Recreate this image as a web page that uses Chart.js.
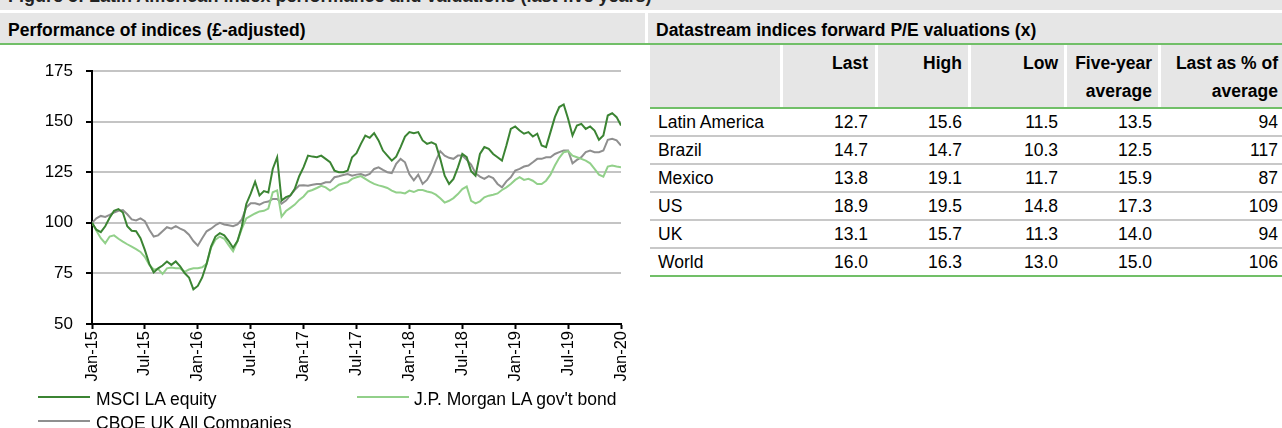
<!DOCTYPE html>
<html>
<head>
<meta charset="utf-8">
<script src="https://cdn.jsdelivr.net/npm/chart.js@4.4.1/dist/chart.umd.min.js"></script>
<style>
    body {
        margin: 0;
        width: 1282px;
        height: 428px;
        overflow: hidden;
        background: #fff;
        position: relative;
        font-family: 'Liberation Sans', Arial, sans-serif;
        color: #000;
    }
    .abs { position: absolute; }
    .band { position: absolute; background: #e6e6e6; }
    #topBand { left: 0; top: 0; width: 1282px; height: 10px; overflow: hidden; }
    #topBand span { position: absolute; left: 8px; top: -16px; font-weight: bold; font-size: 18px; line-height: 24px; white-space: nowrap; color: #222; }
    .head { font-weight: bold; font-size: 17.5px; line-height: 34px; height: 30px; white-space: nowrap; overflow: visible; }
    #greenTop { left: 0; top: 43px; width: 1282px; height: 2px; background: #71bf68; }
    #chartBox { left: 0; top: 45px; width: 645px; height: 345px; }
    .th { position: absolute; top: 45px; height: 58px; padding-top: 4px; background: #e6e6e6; font-weight: bold; font-size: 17.5px; line-height: 28px; text-align: right; white-space: nowrap; }
    .td { position: absolute; height: 26px; font-size: 17.5px; line-height: 24px; white-space: nowrap; }
    .rowLine { position: absolute; left: 650px; width: 632px; height: 2px; background: #c8c8c8; }
    .legLine { position: absolute; width: 52px; height: 0; border-top: 2px solid; }
    .legText { position: absolute; font-size: 17.5px; line-height: 24px; white-space: nowrap; }
</style>
</head>
<body>

<div id="topBand" class="band"><span>Figure 5: Latin American index performance and valuations (last five years)</span></div>

<div class="band head" style="left:0; top:13px; width:645px; padding-left:8px; box-sizing:border-box;">Performance of indices (£-adjusted)</div>
<div class="band head" style="left:648px; top:13px; width:634px; padding-left:8px; box-sizing:border-box;">Datastream indices forward P/E valuations (x)</div>
<div id="greenTop" class="abs"></div>

<div id="chartBox" class="abs"><canvas id="perfChart" width="645" height="345" style="width:645px;height:345px;"></canvas></div>

<div id="legend"></div>
<div id="table"></div>

<script>
// ========================================
// CHART DATA (half-month steps, Jan-15 .. Jan-20)
// ========================================

const tickMonths = [0, 6, 12, 18, 24, 30, 36, 42, 48, 54, 60];
const tickLabels = ['Jan-15', 'Jul-15', 'Jan-16', 'Jul-16', 'Jan-17', 'Jul-17', 'Jan-18', 'Jul-18', 'Jan-19', 'Jul-19', 'Jan-20'];

const msciEquity = [
    100, 96.6, 95.4, 98.3, 102.5, 105.9, 106.8, 105.1, 98.3, 96.1, 95.8, 92.4, 86.5, 79.7, 75.5, 77.5, 78.9, 80.9, 79.2, 80.9,
    78.5, 75.2, 73.0, 67.1, 68.8, 73.0, 79.7, 88.2, 93.2, 94.9, 93.8, 91.0, 87.7, 91.0, 98.3, 109.3, 114.4, 120.3, 113.5, 115.7,
    115.0, 126.6, 132.4, 111.0, 112.7, 113.5, 116.8, 123.0, 127.5,
    133.2, 132.7, 132.4, 133.2, 131.6, 130.0, 125.8, 125.0, 125.0, 125.8, 132.4, 134.4, 139.0, 143.1, 142.0, 144.3, 140.7, 135.7,
    133.2, 130.7, 132.7, 137.4, 142.6, 144.8, 144.3, 144.8, 140.7, 139.0, 139.8, 138.7, 131.6, 123.3, 119.2, 121.7, 127.4, 134.0,
    132.4, 125.5, 123.3, 134.0, 137.4, 136.5, 134.0, 132.4, 130.7, 138.2, 146.4, 147.6, 145.6, 144.0, 144.8, 142.6, 144.0, 138.2,
    137.4, 144.8, 152.2, 157.2, 158.5, 151.4, 143.1, 148.1, 148.9, 146.4, 147.6, 145.6, 141.0, 143.1, 153.0, 154.2, 152.2, 148.1
];

const jpmGovBond = [
    100, 96.1, 92.4, 89.9, 93.2, 93.8, 92.1, 90.7, 89.4, 88.2, 87.0, 85.6, 83.1, 79.2, 76.9, 77.2, 74.7, 77.5, 77.9, 77.5,
    77.5, 75.8, 76.9, 77.5, 77.5, 78.0, 79.7, 87.7, 91.6, 93.2, 92.1, 89.0, 86.0, 91.0, 97.1, 102.2, 103.4, 104.6, 105.6, 105.9,
    107.0, 115.1, 116.0, 103.1, 105.8, 107.4, 109.0, 111.3, 113.0,
    115.5, 116.2, 117.2, 118.3, 117.5, 115.9, 117.2, 118.8, 119.5, 120.0, 121.7, 122.5, 123.1, 121.7, 120.3, 119.2, 118.5, 117.9,
    117.2, 115.9, 115.0, 115.0, 114.5, 115.9, 115.2, 116.2, 116.2, 115.5, 115.0, 113.9, 112.1, 110.0, 110.9, 112.2, 114.2, 116.7,
    117.9, 110.9, 109.6, 110.6, 112.6, 113.4, 113.9, 114.5, 116.2, 117.5, 119.2, 121.2, 122.5, 121.2, 121.7, 120.8, 119.2, 119.2,
    120.8, 123.8, 128.3, 132.1, 134.9, 135.4, 133.2, 132.4, 131.6, 130.7, 129.4, 126.6, 123.8, 122.8, 127.8, 128.3, 127.8, 127.4
];

const cboeUk = [
    100, 102.2, 103.4, 102.9, 103.9, 105.1, 105.9, 106.3, 104.2, 101.7, 101.2, 102.2, 100.8, 96.6, 93.2, 93.8, 95.8, 97.8, 97.1, 98.3,
    97.1, 96.1, 94.1, 91.0, 88.7, 92.4, 95.8, 97.1, 98.8, 100.0, 99.2, 98.8, 98.3, 99.2, 101.7, 107.6, 109.6, 109.6, 109.0, 110.1,
    110.5, 111.8, 111.8, 109.4, 111.0, 113.5, 116.3, 118.4, 118.5,
    118.3, 118.8, 119.2, 119.2, 120.0, 120.0, 122.5, 123.0, 123.6, 124.1, 123.3, 123.8, 124.1, 123.3, 124.1, 126.6, 127.4, 126.1,
    125.0, 124.5, 129.1, 131.6, 129.9, 124.0, 121.0, 123.8, 119.2, 121.2, 125.0, 130.7, 135.4, 133.2, 132.1, 131.6, 133.2, 133.2,
    131.1, 128.8, 124.5, 122.8, 121.7, 123.1, 122.1, 119.2, 117.5, 120.5, 122.5, 125.8, 126.6, 127.8, 128.3, 129.9, 131.6, 131.6,
    132.4, 132.4, 134.0, 134.9, 135.7, 135.7, 129.4, 131.1, 132.4, 134.9, 135.7, 134.9, 134.9, 135.7, 141.0, 141.5, 140.7, 138.2
];

const seriesNames = ['MSCI LA equity', "J.P. Morgan LA gov't bond", 'CBOE UK All Companies'];
const seriesColors = ['#3b8433', '#92d08a', '#8f8f8f'];

// ========================================
// TABLE DATA
// ========================================

const peRegions = ['Latin America', 'Brazil', 'Mexico', 'US', 'UK', 'World'];
const peLast = ['12.7', '14.7', '13.8', '18.9', '13.1', '16.0'];
const peHigh = ['15.6', '14.7', '19.1', '19.5', '15.7', '16.3'];
const peLow = ['11.5', '10.3', '11.7', '14.8', '11.3', '13.0'];
const peAvg = ['13.5', '12.5', '15.9', '17.3', '14.0', '15.0'];
const pePct = ['94', '117', '87', '109', '94', '106'];
const peHeaders = ['', 'Last', 'High', 'Low', 'Five-year<br>average', 'Last as % of<br>average'];

const FONT = "'Liberation Sans', Arial, sans-serif";

// turn a half-month series into {x, y} points
function toPoints(values) {
    return values.map((v, i) => ({ x: i / 2, y: v }));
}

// Chart
function drawChart() {
    const ctx = document.getElementById('perfChart').getContext('2d');
    const series = [msciEquity, jpmGovBond, cboeUk];

    new Chart(ctx, {
        type: 'line',
        data: {
            datasets: series.map((s, i) => ({
                label: seriesNames[i],
                data: toPoints(s),
                borderColor: seriesColors[i],
                backgroundColor: seriesColors[i],
                borderWidth: 2,
                pointRadius: 0,
                tension: 0,
                fill: false
            }))
        },
        options: {
            responsive: false,
            animation: false,
            layout: { padding: { top: 26, right: 24, left: 0, bottom: 0 } },
            plugins: {
                legend: { display: false },
                tooltip: { enabled: false }
            },
            scales: {
                x: {
                    type: 'linear',
                    min: 0,
                    max: 60,
                    afterBuildTicks: function (s) { s.ticks = tickMonths.map(v => ({ value: v })); },
                    afterFit: function (s) { s.height = 66; },
                    ticks: {
                        autoSkip: false,
                        minRotation: 90,
                        maxRotation: 90,
                        padding: 2,
                        color: '#000',
                        font: { family: FONT, size: 16.5 },
                        callback: function (value, index) { return tickLabels[index]; }
                    },
                    grid: { drawOnChartArea: false, tickLength: 5, tickColor: '#000', tickWidth: 2 },
                    border: { color: '#000', width: 2 }
                },
                y: {
                    min: 50,
                    max: 175,
                    afterFit: function (s) { s.width = 92; },
                    ticks: {
                        stepSize: 25,
                        padding: 13,
                        color: '#000',
                        font: { family: FONT, size: 17 }
                    },
                    grid: { color: '#c4c4c4', lineWidth: 2, tickLength: 6, tickColor: '#000', tickWidth: 2 },
                    border: { color: '#000', width: 2 }
                }
            }
        }
    });
}

// Legend
function drawLegend() {
    const spots = [
        { line: 38, text: 96, top: 387, lineTop: 396 },
        { line: 357, text: 414, top: 387, lineTop: 396 },
        { line: 38, text: 96, top: 411, lineTop: 420 }
    ];
    const box = document.getElementById('legend');
    box.innerHTML = spots.map((p, i) => `
        <div class="legLine" style="left:${p.line}px; top:${p.lineTop}px; border-color:${seriesColors[i]};"></div>
        <div class="legText" style="left:${p.text}px; top:${p.top}px;">${seriesNames[i]}</div>
    `).join('');
}

// Table
function drawTable() {
    const cols = [
        { left: 650, right: 780, pad: 8 },
        { left: 783, right: 875, pad: 7 },
        { left: 878, right: 968, pad: 6 },
        { left: 971, right: 1064, pad: 6 },
        { left: 1067, right: 1158, pad: 6 },
        { left: 1161, right: 1282, pad: 4 }
    ];
    const columns = [peRegions, peLast, peHigh, peLow, peAvg, pePct];
    let html = '';

    cols.forEach((c, i) => {
        html += `<div class="th" style="left:${c.left}px; width:${c.right - c.left - c.pad}px; padding-right:${c.pad}px;">${peHeaders[i]}</div>`;
    });
    html += '<div class="abs" style="left:650px; top:107px; width:632px; height:2px; background:#71bf68;"></div>';

    peRegions.forEach((r, row) => {
        const top = 110 + row * 28;
        cols.forEach((c, i) => {
            const align = i === 0 ? `left:${c.left + c.pad}px;` : `left:${c.left}px; width:${c.right - c.left - c.pad}px; text-align:right;`;
            html += `<div class="td" style="top:${top}px; ${align}">${columns[i][row]}</div>`;
        });
        if (row < peRegions.length - 1) {
            html += `<div class="rowLine" style="top:${top + 25}px;"></div>`;
        }
    });
    html += '<div class="abs" style="left:650px; top:275px; width:632px; height:2px; background:#71bf68;"></div>';

    document.getElementById('table').innerHTML = html;
}

drawChart();
drawLegend();
drawTable();
</script>
</body>
</html>
